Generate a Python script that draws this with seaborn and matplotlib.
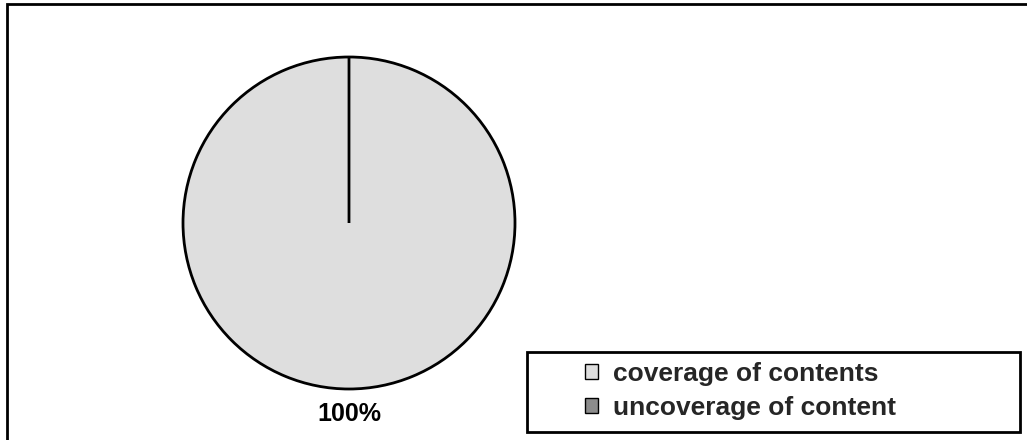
import matplotlib
matplotlib.use("Agg")
import matplotlib.pyplot as plt
from matplotlib.patches import Rectangle, Patch
import seaborn as sns

sns.set_style("white")
plt.rcParams['font.family'] = ['Liberation Sans', 'DejaVu Sans']

# 数据
labels = ["coverage of contents", "uncoverage of content"]
values = [100, 0]
colors = ["#dedede", "#8c8c8c"]

fig = plt.figure(figsize=(10.27, 4.4), dpi=100)

# 外框
fig.patches.append(Rectangle((7 / 1027, -0.05), 1.1, 1 - 4 / 440 + 0.05,
                             transform=fig.transFigure, fill=False,
                             edgecolor="black", linewidth=2))

# 饼图
ax = fig.add_axes([183 / 1027, 51 / 440, 332 / 1027, 332 / 440])
wedges, texts, autotexts = ax.pie(
    values, colors=colors, startangle=90, counterclock=False,
    wedgeprops=dict(edgecolor="black", linewidth=2),
    autopct=lambda p: f"{p:.0f}%" if p > 0 else "",
    pctdistance=1.15,
    textprops=dict(fontsize=18, fontweight="bold", color="black"))
ax.set_xlim(-1, 1)
ax.set_ylim(-1, 1)
ax.set_aspect("equal")
for w in wedges:
    w.set_clip_on(False)
for t in autotexts:
    t.set_clip_on(False)

# 图例框
fig.patches.append(Rectangle((527 / 1027, 1 - 432 / 440), 493 / 1027, 80 / 440,
                             transform=fig.transFigure, fill=False,
                             edgecolor="black", linewidth=2))
handles = [Patch(facecolor=c, edgecolor="black", linewidth=1) for c in colors]
leg = fig.legend(handles, labels, loc="center left", bbox_to_anchor=(585 / 1027, 1 - 391 / 440),
                 frameon=False, prop=dict(size=19, weight="bold"),
                 handlelength=0.5, handleheight=0.5, handletextpad=0.55,
                 labelspacing=0.4, borderpad=0, borderaxespad=0)

plt.savefig("out.png", dpi=100)
